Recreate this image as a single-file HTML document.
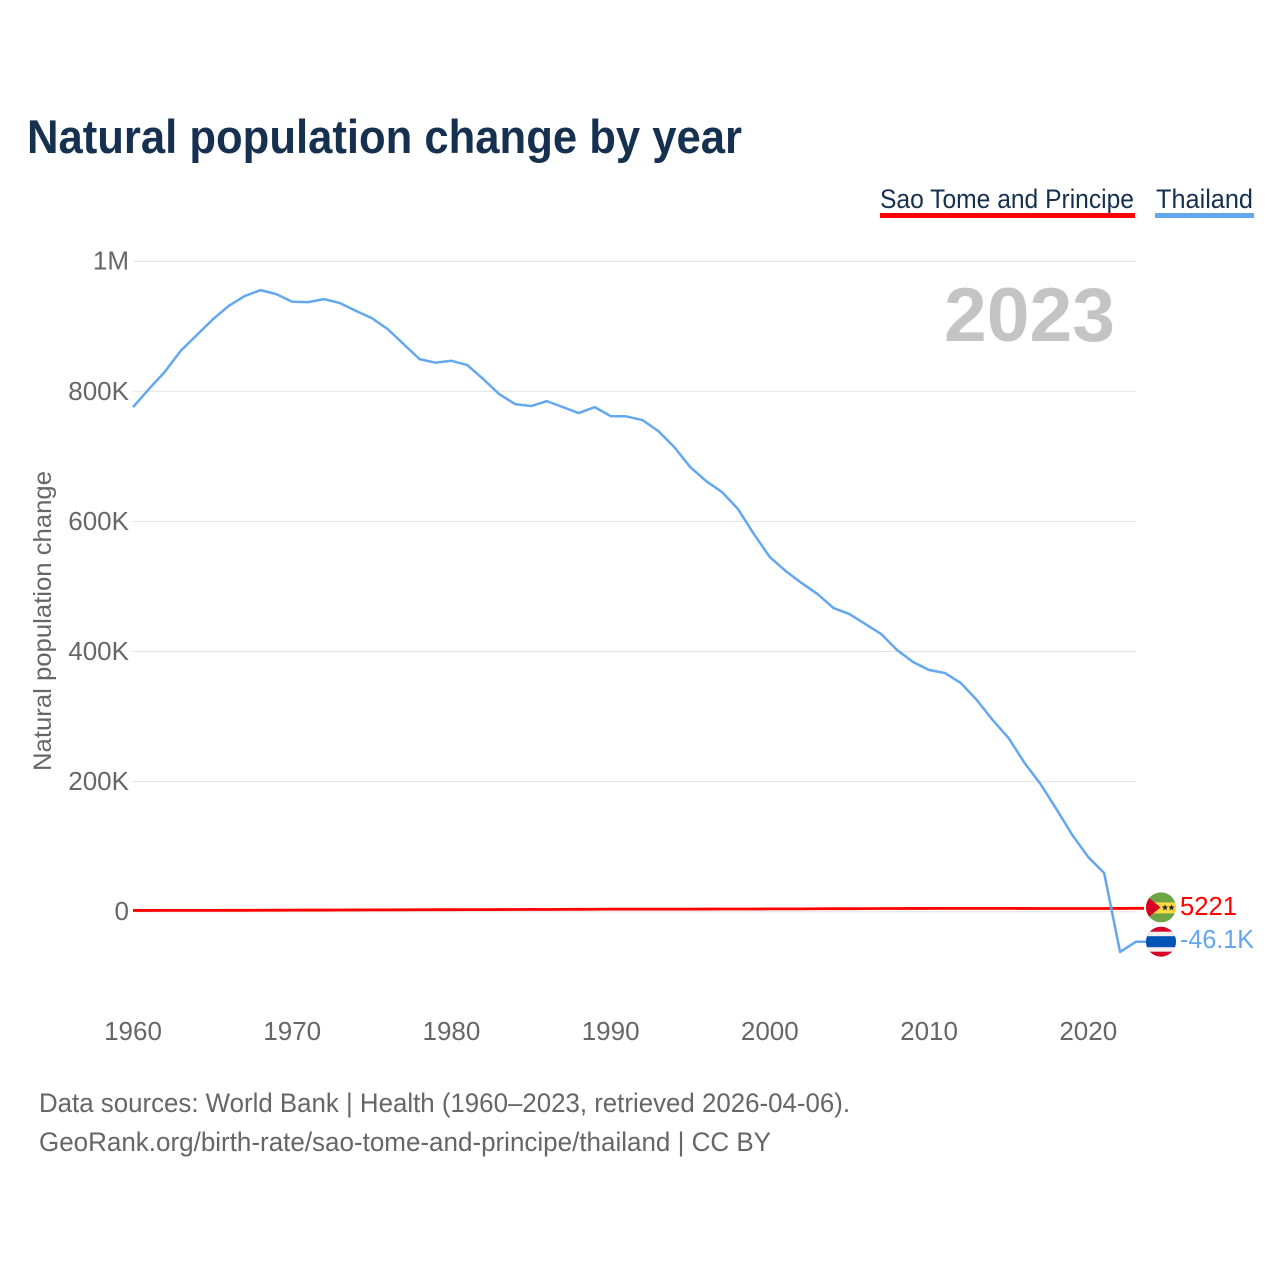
<!DOCTYPE html>
<html lang="en">
<head>
<meta charset="utf-8">
<title>Natural population change by year</title>
<style>
  html, body { margin: 0; padding: 0; background: #fff; }
  svg { display: block; font-family: "Liberation Sans", sans-serif; }
</style>
</head>
<body>
<svg id="chart" xmlns="http://www.w3.org/2000/svg" width="1280" height="1280" viewBox="0 0 1280 1280">
  <rect x="0" y="0" width="1280" height="1280" fill="#ffffff"/>
  <text x="27" y="153" font-size="47" font-weight="700" fill="#16304f" textLength="715" lengthAdjust="spacingAndGlyphs">Natural population change by year</text>

  <g>
    <g>
      <text x="880" y="208" font-size="27" fill="#16304f" textLength="254" lengthAdjust="spacingAndGlyphs">Sao Tome and Principe</text>
      <rect x="880" y="213" width="255" height="5" fill="#ff0000"/>
    </g>
    <g>
      <text x="1156" y="208" font-size="27" fill="#16304f" textLength="97" lengthAdjust="spacingAndGlyphs">Thailand</text>
      <rect x="1155" y="213" width="99" height="5" fill="#63a7ee"/>
    </g>
  </g>

  <g id="grid"></g>
  <g id="y-ticks"></g>
  <g id="x-ticks"></g>

  <text transform="translate(51 771) rotate(-90)" font-size="25" fill="#666666" textLength="300" lengthAdjust="spacingAndGlyphs">Natural population change</text>
  <text x="944" y="341" font-size="76" font-weight="700" fill="#c4c4c4" textLength="171" lengthAdjust="spacingAndGlyphs">2023</text>

  <g id="series"></g>

  <g id="end-sao-tome">
    <clipPath id="clip-st"><circle cx="1161" cy="0" r="15"/></clipPath>
    <g clip-path="url(#clip-st)">
      <rect x="1146" y="-15" width="30" height="30" fill="#6da544"/>
      <rect x="1146" y="-5" width="30" height="11" fill="#ffda44"/>
      <path d="M1146 -12 L1160.5 0 L1146 12 Z" fill="#d80027"/>
      <path d="M1165 -3.2 l0.9 2.3 2.3 0 -1.8 1.5 0.7 2.4 -2.1 -1.4 -2.1 1.4 0.7 -2.4 -1.8 -1.5 2.3 0 Z" fill="#222222"/>
      <path d="M1171.5 -3.2 l0.9 2.3 2.3 0 -1.8 1.5 0.7 2.4 -2.1 -1.4 -2.1 1.4 0.7 -2.4 -1.8 -1.5 2.3 0 Z" fill="#222222"/>
    </g>
    <text id="label-st" x="1180" y="7.5" font-size="26" fill="#ff0000" textLength="57" lengthAdjust="spacingAndGlyphs"></text>
  </g>

  <g id="end-thailand">
    <clipPath id="clip-th"><circle cx="1161" cy="0" r="15"/></clipPath>
    <g clip-path="url(#clip-th)">
      <rect x="1146" y="-16" width="30" height="32" fill="#d80027"/>
      <rect x="1146" y="-10" width="30" height="20" fill="#f0f0f0"/>
      <rect x="1146" y="-5.5" width="30" height="11" fill="#0052b4"/>
    </g>
    <text id="label-th" x="1180" y="6.5" font-size="26" fill="#63a7ee" textLength="74" lengthAdjust="spacingAndGlyphs"></text>
  </g>

  <g>
    <text x="39" y="1112" font-size="26.5" fill="#666666" textLength="811" lengthAdjust="spacingAndGlyphs">Data sources: World Bank | Health (1960–2023, retrieved 2026-04-06).</text>
    <text x="39" y="1151" font-size="26.5" fill="#666666" textLength="732" lengthAdjust="spacingAndGlyphs">GeoRank.org/birth-rate/sao-tome-and-principe/thailand | CC BY</text>
  </g>
</svg>
<script>
const years = [1960,1961,1962,1963,1964,1965,1966,1967,1968,1969,1970,1971,1972,1973,1974,1975,1976,1977,1978,1979,1980,1981,1982,1983,1984,1985,1986,1987,1988,1989,1990,1991,1992,1993,1994,1995,1996,1997,1998,1999,2000,2001,2002,2003,2004,2005,2006,2007,2008,2009,2010,2011,2012,2013,2014,2015,2016,2017,2018,2019,2020,2021,2022,2023];

const thailandValues = [775700,803400,830000,862300,886400,910200,931000,946300,955500,949400,937600,937100,941700,935600,923700,912500,895600,872500,849500,844000,846900,840300,818800,795700,780300,777300,784900,775700,766500,775700,761900,761400,755700,738800,714200,683500,662000,645000,619000,580500,545200,523600,505200,488300,466800,457600,442200,426800,402200,383800,371500,366900,351500,325400,294600,267000,228600,196300,157800,117900,84000,59500,-61900,-46100];

const saoTomeValues = [1900,1950,2000,2000,2050,2050,2100,2150,2200,2300,2400,2500,2500,2600,2700,2800,2800,2900,3000,3100,3100,3200,3200,3300,3400,3500,3400,3600,3700,3800,3900,3900,3900,3900,3950,4000,4050,4100,4200,4200,4300,4400,4400,4500,4600,4650,4700,4900,4950,5000,5000,5050,5100,5100,5050,5050,5000,4950,4950,4950,4950,4950,5000,5221];

const yTickValues = [0,200000,400000,600000,800000,1000000];
const yTickLabels = ["0","200K","400K","600K","800K","1M"];
const xTickYears = [1960,1970,1980,1990,2000,2010,2020];

const svgNS = "http://www.w3.org/2000/svg";
const plotLeft = 133;
const plotRight = 1136;
const zeroY = 911.7;
const pxPerUnit = 650.5 / 1000000;

function xScale(year) {
  return plotLeft + (year - years[0]) * (plotRight - plotLeft) / (years[years.length - 1] - years[0]);
}
function yScale(value) {
  return zeroY - value * pxPerUnit;
}
function formatValue(v) {
  if (Math.abs(v) >= 10000) return (v / 1000).toFixed(1) + "K";
  return String(v);
}

const gridGroup = document.getElementById("grid");
const yTickGroup = document.getElementById("y-ticks");
yTickValues.forEach(function (v, i) {
  const line = document.createElementNS(svgNS, "line");
  
  
  line.setAttribute("x1", plotLeft);
  line.setAttribute("x2", plotRight);
  line.setAttribute("y1", yScale(v));
  line.setAttribute("y2", yScale(v));
  line.setAttribute("stroke", "#e2e2e2");
  line.setAttribute("stroke-width", "1");
  gridGroup.appendChild(line);

  const t = document.createElementNS(svgNS, "text");
  
  
  t.setAttribute("x", 129);
  t.setAttribute("y", yScale(v) + 8.5);
  t.setAttribute("text-anchor", "end");
  t.setAttribute("font-size", "26");
  t.setAttribute("fill", "#666666");
  t.textContent = yTickLabels[i];
  yTickGroup.appendChild(t);
});

const xTickGroup = document.getElementById("x-ticks");
xTickYears.forEach(function (yr) {
  const t = document.createElementNS(svgNS, "text");
  
  
  t.setAttribute("x", xScale(yr));
  t.setAttribute("y", 1040);
  t.setAttribute("text-anchor", "middle");
  t.setAttribute("font-size", "26");
  t.setAttribute("fill", "#666666");
  t.textContent = String(yr);
  xTickGroup.appendChild(t);
});

function linePath(values) {
  return values.map(function (v, i) {
    return (i ? "L" : "M") + xScale(years[i]).toFixed(2) + " " + yScale(v).toFixed(2);
  }).join(" ");
}

const seriesGroup = document.getElementById("series");

const saoTomeLine = document.createElementNS(svgNS, "path");


saoTomeLine.setAttribute("d", linePath(saoTomeValues) + " h8");
saoTomeLine.setAttribute("fill", "none");
saoTomeLine.setAttribute("stroke", "#ff0000");
saoTomeLine.setAttribute("stroke-width", "2.8");
seriesGroup.appendChild(saoTomeLine);

const thailandLine = document.createElementNS(svgNS, "path");


thailandLine.setAttribute("d", linePath(thailandValues) + " h10");
thailandLine.setAttribute("fill", "none");
thailandLine.setAttribute("stroke", "#63a7ee");
thailandLine.setAttribute("stroke-width", "2.5");
thailandLine.setAttribute("stroke-linejoin", "round");
seriesGroup.appendChild(thailandLine);

const lastSaoTome = saoTomeValues[saoTomeValues.length - 1];
const lastThailand = thailandValues[thailandValues.length - 1];
document.getElementById("end-sao-tome").setAttribute("transform", "translate(0 " + (yScale(lastSaoTome) - 0.9) + ")");
document.getElementById("end-thailand").setAttribute("transform", "translate(0 " + yScale(lastThailand) + ")");
document.getElementById("label-st").textContent = formatValue(lastSaoTome);
document.getElementById("label-th").textContent = formatValue(lastThailand);
</script>
</body>
</html>
